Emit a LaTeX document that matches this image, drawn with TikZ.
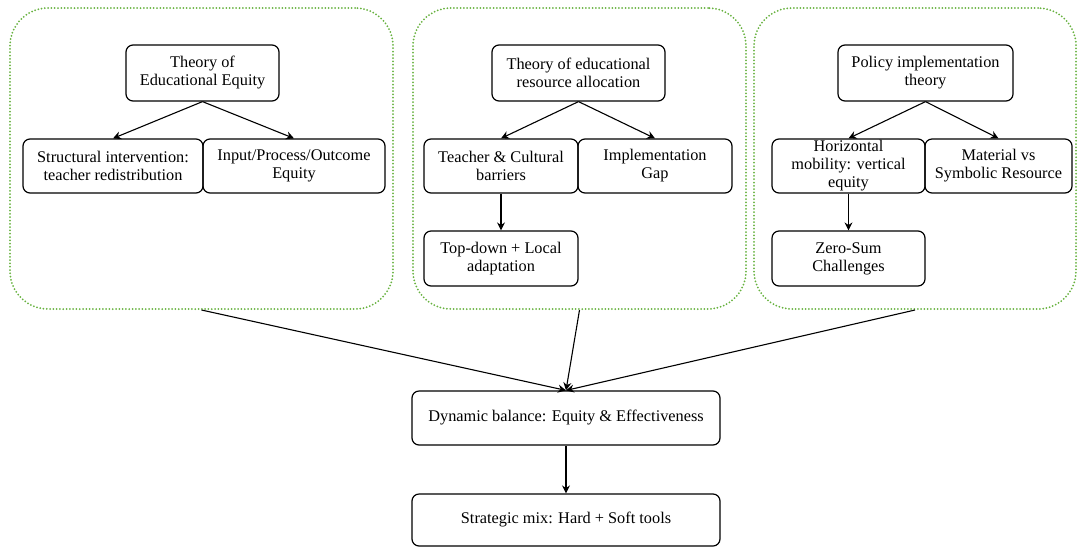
\documentclass[tikz,border=0pt]{standalone}
\usepackage{fontspec}
\setmainfont{Liberation Serif}
\usepackage{tikz}
\usetikzlibrary{arrows.meta, positioning}

\definecolor{grpgreen}{RGB}{104,178,64}

\tikzset{
	box/.style={draw, line width=1.2pt, rounded corners=7pt, align=center, inner sep=0pt,
		font=\rmfamily\fontsize{16.3}{18}\selectfont},
	group/.style={draw=grpgreen, line width=2pt, dash pattern=on 0pt off 3.3pt,
		line cap=round, rounded corners=38pt},
	arr/.style={-{Stealth[length=8pt, width=8pt]}, line width=1.1pt}
}

\begin{document}
\begin{tikzpicture}[x=1pt, y=-1pt]
		\useasboundingbox (0,0) rectangle (1078,547);
		% Groups
		\node[group, minimum width=383pt, minimum height=301pt] (grpA) at (201.5,158.5) {};
		\node[group, minimum width=333pt, minimum height=301pt] (grpB) at (579.5,158.5) {};
		\node[group, minimum width=322pt, minimum height=301pt] (grpC) at (915,158.5) {};

		% Equity
		\node[box, minimum width=153pt, minimum height=56pt] (eqTheory) at (202.5,73) {Theory of\\Educational Equity};
		\node[box, minimum width=180pt, minimum height=54pt] (eqStruct) at (113,166) {Structural intervention:\\teacher redistribution};
		\node[box, minimum width=182pt, minimum height=54pt] (eqInput) at (294,166) {Input/Process/Outcome\\Equity};

		% Resource allocation
		\node[box, minimum width=173pt, minimum height=56pt] (resTheory) at (578.5,73) {Theory of educational\\resource allocation};
		\node[box, minimum width=154pt, minimum height=54pt] (resBarrier) at (501,166) {Teacher \& Cultural\\barriers};
		\node[box, minimum width=154pt, minimum height=54pt] (resGap) at (655,166) {Implementation\\Gap};
		\node[box, minimum width=154pt, minimum height=55pt] (resTop) at (501,258.5) {Top-down + Local\\adaptation};

		% Policy implementation
		\node[box, minimum width=175pt, minimum height=56pt] (polTheory) at (925.5,73) {Policy implementation\\theory};
		\node[box, minimum width=153pt, minimum height=54pt] (polMob) at (848.5,166) {Horizontal\\mobility: vertical\\equity};
		\node[box, minimum width=147pt, minimum height=54pt] (polMat) at (998.5,166) {Material vs\\Symbolic Resource};
		\node[box, minimum width=153pt, minimum height=55pt] (polZero) at (848.5,258.5) {Zero-Sum\\Challenges};

		% Synthesis
		\node[box, minimum width=308pt, minimum height=54pt] (balance) at (566,418) {Dynamic balance: Equity \& Effectiveness};
		\node[box, minimum width=308pt, minimum height=52pt] (mix) at (566,520) {Strategic mix: Hard + Soft tools};

		\draw[arr] (eqTheory.south) -- (eqStruct.north);
		\draw[arr] (eqTheory.south) -- (eqInput.north);
		\draw[arr] (resTheory.south) -- (resBarrier.north);
		\draw[arr] (resTheory.south) -- (resGap.north);
		\draw[arr] (resBarrier.south) -- (resTop.north);
		\draw[arr] (polTheory.south) -- (polMob.north);
		\draw[arr] (polTheory.south) -- (polMat.north);
		\draw[arr] (polMob.south) -- (polZero.north);

		\draw[arr] (grpA.south) -- (balance.north);
		\draw[arr] (grpB.south) -- (balance.north);
		\draw[arr] (grpC.south) -- (balance.north);
		\draw[arr] (balance.south) -- (mix.north);
	\end{tikzpicture}
\end{document}
